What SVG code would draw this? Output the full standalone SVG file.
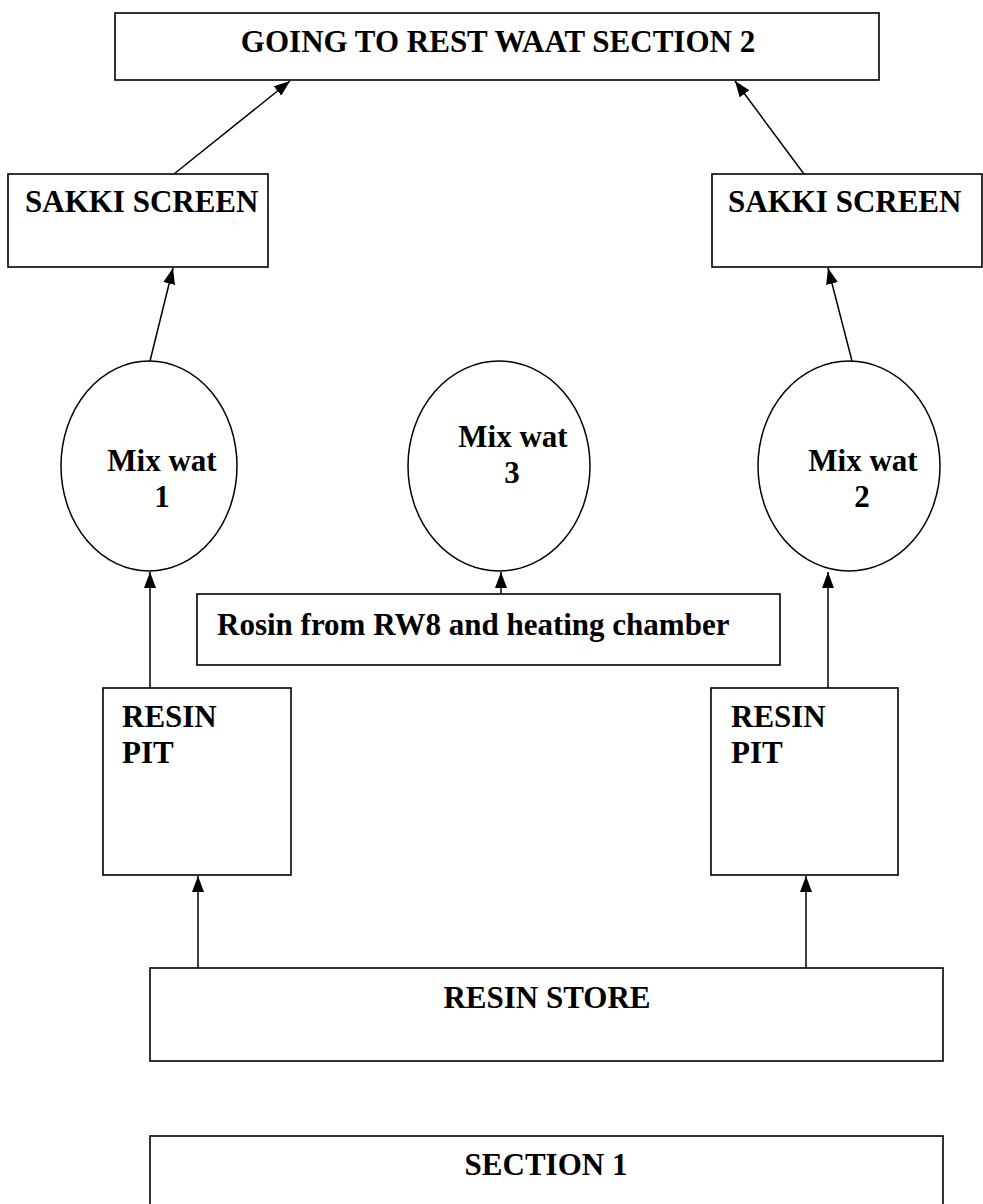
<svg xmlns="http://www.w3.org/2000/svg" width="983" height="1204" viewBox="0 0 983 1204">
  <style>
    .box { fill: #ffffff; stroke: #000000; stroke-width: 1.6; }
    .vat { fill: #ffffff; stroke: #000000; stroke-width: 1.5; }
    .lbl { font-family: "Liberation Serif", "Times New Roman", serif; font-weight: bold; font-size: 31px; fill: #000000; }
    .mid { text-anchor: middle; }
    .flow { fill: none; stroke: #000000; stroke-width: 1.5; marker-end: url(#head); }
  </style>
  <defs>
    <marker id="head" viewBox="0 0 16 12" refX="16" refY="6" markerWidth="16" markerHeight="12" markerUnits="userSpaceOnUse" orient="auto">
      <path d="M0,0 L16,6 L0,12 Z" fill="#000000"/>
    </marker>
  </defs>
  <rect width="983" height="1204" fill="#ffffff"/>

  <g id="rest-waat">
    <rect class="box" x="115" y="13" width="764" height="67"/>
    <text class="lbl mid" x="498" y="52">GOING TO REST WAAT SECTION 2</text>
  </g>

  <g id="sakki-screen-1">
    <rect class="box" x="8" y="174" width="260" height="93"/>
    <text class="lbl" x="25" y="212">SAKKI SCREEN</text>
  </g>

  <g id="sakki-screen-2">
    <rect class="box" x="712" y="174" width="270" height="93"/>
    <text class="lbl" x="728" y="212">SAKKI SCREEN</text>
  </g>

  <g id="mix-wat-1">
    <ellipse class="vat" cx="149" cy="466" rx="88" ry="105"/>
    <text class="lbl mid" x="162" y="471">Mix wat</text>
    <text class="lbl mid" x="162" y="507">1</text>
  </g>

  <g id="mix-wat-3">
    <ellipse class="vat" cx="499" cy="466" rx="91" ry="105"/>
    <text class="lbl mid" x="513" y="447">Mix wat</text>
    <text class="lbl mid" x="512" y="483">3</text>
  </g>

  <g id="mix-wat-2">
    <ellipse class="vat" cx="849" cy="466" rx="91" ry="105"/>
    <text class="lbl mid" x="863" y="471">Mix wat</text>
    <text class="lbl mid" x="862" y="507">2</text>
  </g>

  <g id="rosin-feed">
    <rect class="box" x="197" y="594" width="583" height="71"/>
    <text class="lbl" x="217" y="635">Rosin from RW8 and heating chamber</text>
  </g>

  <g id="resin-pit-1">
    <rect class="box" x="103" y="688" width="188" height="187"/>
    <text class="lbl" x="122" y="727">RESIN</text>
    <text class="lbl" x="122" y="763">PIT</text>
  </g>

  <g id="resin-pit-2">
    <rect class="box" x="711" y="688" width="187" height="187"/>
    <text class="lbl" x="731" y="727">RESIN</text>
    <text class="lbl" x="731" y="763">PIT</text>
  </g>

  <g id="resin-store">
    <rect class="box" x="150" y="968" width="793" height="93"/>
    <text class="lbl mid" x="547" y="1008">RESIN STORE</text>
  </g>

  <g id="section-1">
    <rect class="box" x="150" y="1136" width="793" height="80"/>
    <text class="lbl mid" x="546" y="1175">SECTION 1</text>
  </g>

  <g id="connectors">
    <line class="flow" x1="174" y1="174" x2="290" y2="81"/>
    <line class="flow" x1="804" y1="174" x2="735" y2="81"/>
    <line class="flow" x1="150" y1="361" x2="173" y2="268"/>
    <line class="flow" x1="852" y1="361" x2="828" y2="268"/>
    <line class="flow" x1="150" y1="688" x2="150" y2="572"/>
    <line class="flow" x1="501" y1="594" x2="501" y2="572"/>
    <line class="flow" x1="828" y1="688" x2="828" y2="572"/>
    <line class="flow" x1="198" y1="968" x2="198" y2="876"/>
    <line class="flow" x1="806" y1="968" x2="806" y2="876"/>
  </g>
</svg>
